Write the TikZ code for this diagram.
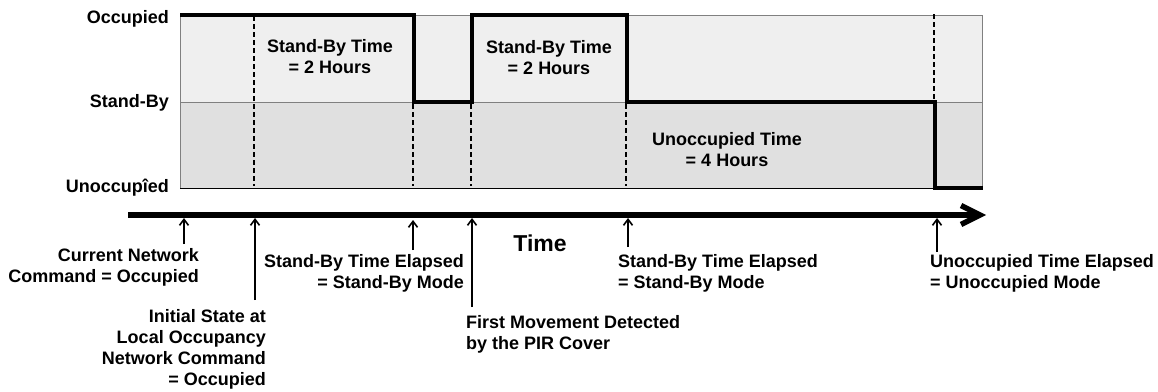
\documentclass[tikz,border=0pt]{standalone}
\usepackage{fontspec}
\setmainfont{Liberation Sans}
\usetikzlibrary{arrows.meta}
\definecolor{topfill}{HTML}{EFEFEF}
\definecolor{botfill}{HTML}{E0E0E0}
\definecolor{edgegray}{HTML}{808080}
\tikzset{
  lbl/.style={font=\fontsize{18}{21}\selectfont\bfseries, inner sep=0pt},
  bigl/.style={font=\fontsize{23}{26}\selectfont\bfseries, inner sep=0pt},
  wave/.style={line width=4.5pt, line join=miter},
  dashv/.style={line width=2.6pt, dash pattern=on 5pt off 3pt},
  ptr/.style={line width=1.6pt, -{Straight Barb[length=6pt,width=9pt,line width=1.6pt]}},
  axisline/.style={line width=5.5pt}
}
\begin{document}
\begin{tikzpicture}[x=1pt,y=-1pt]
\useasboundingbox (0,0) rectangle (1158,391);
% bands
\fill[topfill] (180,15) rectangle (982,102);
\fill[botfill] (180,102) rectangle (982,188);
\draw[edgegray, line width=1pt] (180,188) -- (180,15) -- (982,15) -- (982,188);
\draw[edgegray, line width=1pt] (180,102) -- (982,102);
\draw[black, line width=1pt] (180,188) -- (982,188);
% level labels
\node[lbl, anchor=east] (occ) at (169,19) {Occupied};
\node[lbl, anchor=east] (sby) at (169,103) {Stand-By};
\node[lbl, anchor=east] (unocc) at (169,188) {Unoccupîed};
% dashed markers
\draw[dashv] (254,16) -- (254,186);
\draw[dashv] (413,104) -- (413,186);
\draw[dashv] (471,104) -- (471,186);
\draw[dashv] (626,104) -- (626,186);
\draw[dashv] (934,14) -- (934,100);
% waveform
\draw[wave] (180,15) -- (414,15) -- (414,102) -- (472,102) -- (472,15) -- (627,15) -- (627,102) -- (935,102) -- (935,188) -- (983,188);
% inner labels
\node[lbl, align=center] (sb1) at (330,57) {Stand-By Time\\= 2 Hours};
\node[lbl, align=center] (sb2) at (549,58) {Stand-By Time\\= 2 Hours};
\node[lbl, align=center] (ut) at (727,150) {Unoccupied Time\\= 4 Hours};
% time axis
\coordinate (axL) at (128,215);
\coordinate (axR) at (980,215);
\draw[axisline] (axL) -- (axR);
\draw[line width=5.5pt, line join=miter, miter limit=4] (961,205.5) -- (980,215) -- (961,224.5);
\node[bigl] (time) at (540,243) {Time};
% axis points
\coordinate (p1) at (184,218);
\coordinate (p2) at (255,218);
\coordinate (p3) at (413,220);
\coordinate (p4) at (472,218);
\coordinate (p5) at (628,218);
\coordinate (p6) at (937,218);
\coordinate (s1) at (184,244);
\coordinate (s2) at (255,300);
\coordinate (s3) at (413,250);
\coordinate (s4) at (472,307);
\coordinate (s5) at (628,247);
\coordinate (s6) at (937,252);
\draw[ptr] (s1) -- (p1);
\draw[ptr] (s2) -- (p2);
\draw[ptr] (s3) -- (p3);
\draw[ptr] (s4) -- (p4);
\draw[ptr] (s5) -- (p5);
\draw[ptr] (s6) -- (p6);
% bottom labels
\node[lbl, align=right, anchor=east] (cn) at (199,267.5) {Current Network\\Command = Occupied};
\node[lbl, align=right, anchor=east] (ise) at (266,349.5) {Initial State at\\Local Occupancy\\Network Command\\= Occupied};
\node[lbl, align=right, anchor=east] (sbe1) at (464,273.5) {Stand-By Time Elapsed\\= Stand-By Mode};
\node[lbl, align=left, anchor=west] (fm) at (466,334.5) {First Movement Detected\\by the PIR Cover};
\node[lbl, align=left, anchor=west] (sbe2) at (618,273.5) {Stand-By Time Elapsed\\= Stand-By Mode};
\node[lbl, align=left, anchor=west] (ute) at (930,273.5) {Unoccupied Time Elapsed\\= Unoccupied Mode};
\end{tikzpicture}
\end{document}
